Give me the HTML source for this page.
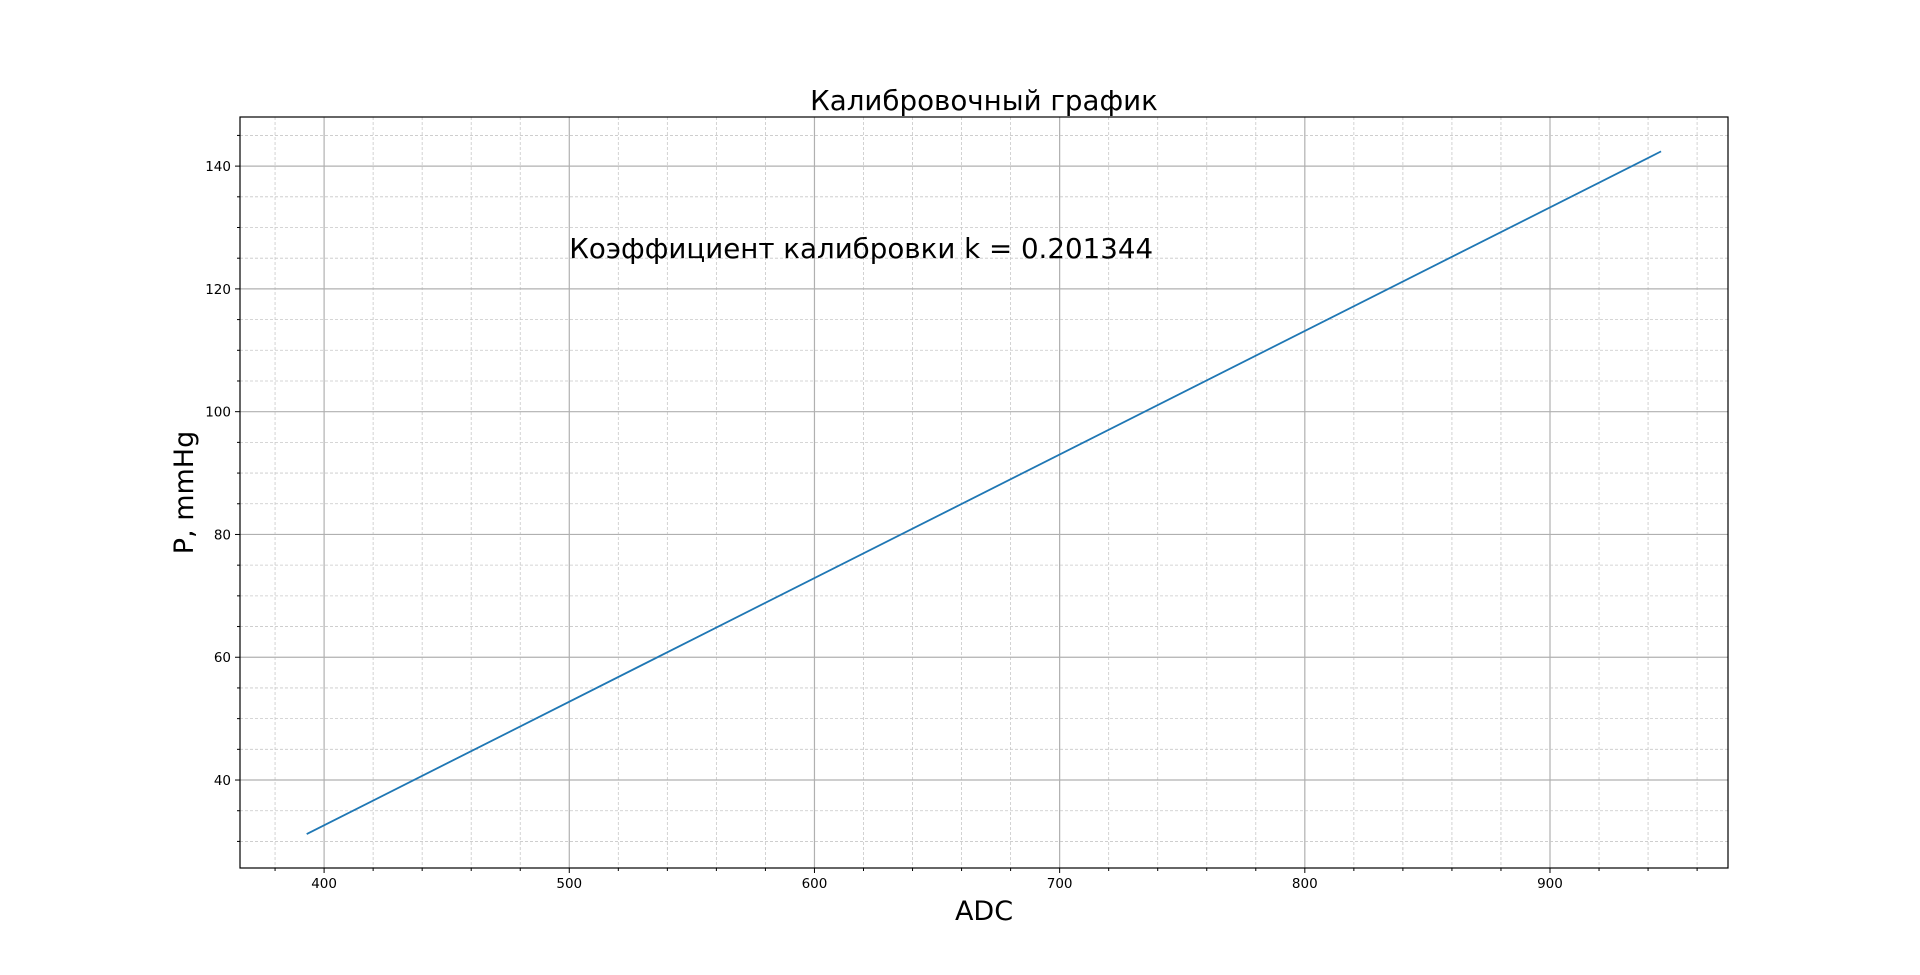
<!DOCTYPE html>
<html><head><meta charset="utf-8"><style>
html,body{margin:0;padding:0;background:#fff;}
svg{display:block;font-family:"DejaVu Sans","Liberation Sans",sans-serif;}
</style></head><body>
<svg id="chart" width="1920" height="975"></svg>
<script>
const adcValues = [392.9, 945.3];
const pressureValues = [31.2, 142.4];
const xTickLabels = [400, 500, 600, 700, 800, 900];
const yTickLabels = [40, 60, 80, 100, 120, 140];
const xMinorTicks = [380,400,420,440,460,480,500,520,540,560,580,600,620,640,660,680,700,720,740,760,780,800,820,840,860,880,900,920,940,960];
const yMinorTicks = [30,35,40,45,50,55,60,65,70,75,80,85,90,95,100,105,110,115,120,125,130,135,140,145];

const L=240,R=1728,T=117,B=868;
const xMin=365.7,xMax=972.6,yMin=25.67,yMax=148.0;
const sx=v=>L+(v-xMin)/(xMax-xMin)*(R-L);
const sy=v=>B-(v-yMin)/(yMax-yMin)*(B-T);
const svg=document.getElementById('chart');
const NS='http://www.w3.org/2000/svg';
function mk(tag,attrs,parent){const e=document.createElementNS(NS,tag);for(const k in attrs)e.setAttribute(k,attrs[k]);(parent||svg).appendChild(e);return e;}

const grid=mk('g',{});


xMinorTicks.forEach(v=>{
  const major=xTickLabels.includes(v);
  const l=mk('line',{x1:sx(v),x2:sx(v),y1:T,y2:B,stroke:major?'#b0b0b0':'#c8c8c8','stroke-width':major?1.2:0.8,'stroke-dasharray':major?'':'3,2'},grid);
  
  
  mk('line',{x1:sx(v),x2:sx(v),y1:B,y2:B+(major?5:3),stroke:'#000','stroke-width':1});
});
yMinorTicks.forEach(v=>{
  const major=yTickLabels.includes(v);
  const l=mk('line',{x1:L,x2:R,y1:sy(v),y2:sy(v),stroke:major?'#b0b0b0':'#c8c8c8','stroke-width':major?1.2:0.8,'stroke-dasharray':major?'':'3,2'},grid);
  
  
  mk('line',{x1:L,x2:L-(major?5:3),y1:sy(v),y2:sy(v),stroke:'#000','stroke-width':1});
});
xTickLabels.forEach(v=>{
  const t=mk('text',{x:sx(v),y:B+20,'text-anchor':'middle','font-size':13.5,fill:'#000'});
  t.textContent=v;
  
  
});
yTickLabels.forEach(v=>{
  const t=mk('text',{x:L-9,y:sy(v)+5,'text-anchor':'end','font-size':13.5,fill:'#000'});
  t.textContent=v;
  
  
});
const pts=adcValues.map((a,i)=>sx(a)+','+sy(pressureValues[i])).join(' ');
const line=mk('polyline',{points:pts,fill:'none',stroke:'#1f77b4','stroke-width':1.8});


const frame=mk('rect',{x:L,y:T,width:R-L,height:B-T,fill:'none',stroke:'#000','stroke-width':1.2});



const title=mk('text',{x:(L+R)/2,y:110,'text-anchor':'middle','font-size':27.7,fill:'#000'});
title.textContent='Калибровочный график';


const ann=mk('text',{x:sx(500),y:sy(125),'font-size':27.7,fill:'#000'});
ann.textContent='Коэффициент калибровки k = 0.201344';


const xl=mk('text',{x:(L+R)/2,y:920,'text-anchor':'middle','font-size':27,fill:'#000'});
xl.textContent='ADC';


const yl=mk('text',{x:0,y:0,'text-anchor':'middle','font-size':27,fill:'#000',transform:'translate(193,'+((T+B)/2)+') rotate(-90)'});
yl.textContent='P, mmHg';


</script>
</body></html>
